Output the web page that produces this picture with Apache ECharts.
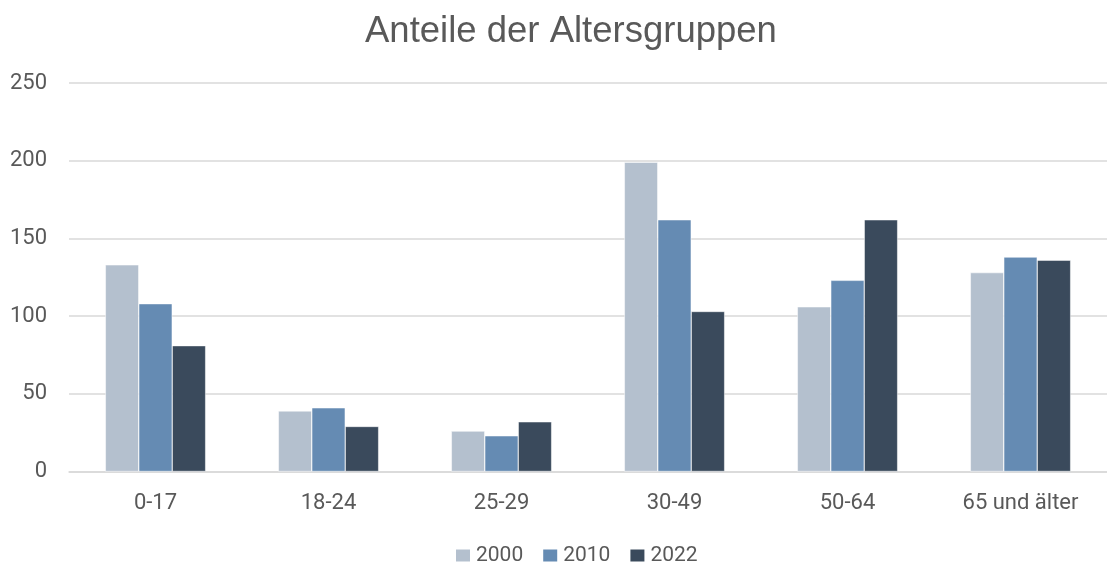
<!DOCTYPE html>
<html>
<head>
<meta charset="utf-8">
<script src="https://cdn.jsdelivr.net/npm/echarts@6/dist/echarts.min.js"></script>
<style>
  html, body { margin: 0; padding: 0; background: #fff; }
  #chart { width: 1107px; height: 564px; }
</style>
</head>
<body>
<div id="chart"></div>
<script>
const categories = ["0-17", "18-24", "25-29", "30-49", "50-64", "65 und älter"];
const years = ["2000", "2010", "2022"];
const values2000 = [133, 39, 26, 199, 106, 128];
const values2010 = [108, 41, 23, 162, 123, 138];
const values2022 = [81, 29, 32, 103, 162, 136];
const colors = ["#b4c0ce", "#658bb3", "#3a4a5c"];

const titleFont = "Liberation Sans, Arial, sans-serif";
const labelFont = "Roboto, Liberation Sans, sans-serif";
const chart = echarts.init(document.getElementById("chart"));

const seriesValues = [values2000, values2010, values2022];

chart.setOption({
  animation: false,
  title: {
    text: "Anteile der Altersgruppen",
    left: 360,
    top: 8,
    textStyle: { color: "#595959", fontSize: 36.5, fontWeight: "normal", fontFamily: titleFont }
  },
  legend: {
    top: 540,
    left: 449,
    itemWidth: 16,
    itemHeight: 14,
    itemGap: 18,
    icon: "rect",
    textStyle: { color: "#595959", fontSize: 21, fontFamily: labelFont }
  },
  grid: { left: 69, top: 83, width: 1048, bottom: 92.5, containLabel: false },
  xAxis: {
    type: "category",
    data: categories,
    axisLine: { lineStyle: { color: "#d9d9d9", width: 1.5 } },
    axisTick: { show: false },
    axisLabel: { color: "#595959", fontSize: 22, fontFamily: labelFont, margin: 21 }
  },
  yAxis: {
    type: "value",
    min: 0,
    max: 250,
    interval: 50,
    axisLine: { show: false },
    axisTick: { show: false },
    splitLine: { lineStyle: { color: "#d9d9d9", width: 1.5 } },
    axisLabel: { color: "#595959", fontSize: 22, fontFamily: labelFont, margin: 22 }
  },
  series: years.map((year, i) => ({
    name: year,
    type: "bar",
    data: seriesValues[i],
    barGap: "0%",
    barCategoryGap: "42%",
    itemStyle: { color: colors[i], borderColor: "#ffffff", borderWidth: 0.5 }
  }))
});
</script>
</body>
</html>
